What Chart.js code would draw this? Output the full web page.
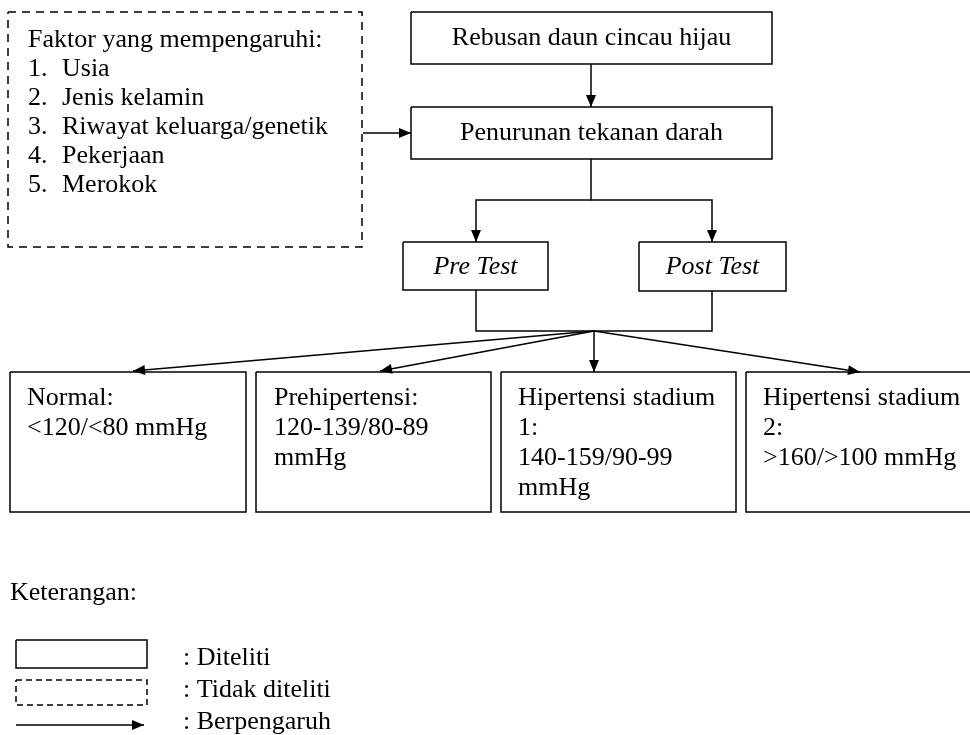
<!DOCTYPE html>
<html>
<head>
<meta charset="utf-8">
<script src="https://cdn.jsdelivr.net/npm/chart.js@4"></script>
<style>
  html, body { margin: 0; padding: 0; background: #fff; }
  #wrap { width: 970px; height: 735px; position: relative; }
</style>
</head>
<body>
<div id="wrap"><canvas id="diagram"></canvas></div>
<script>
// Teks kotak-kotak kerangka konsep
const factorTitle = 'Faktor yang mempengaruhi:';
const factorNumbers = ['1.', '2.', '3.', '4.', '5.'];
const factorItems = ['Usia', 'Jenis kelamin', 'Riwayat keluarga/genetik', 'Pekerjaan', 'Merokok'];
const mainSteps = ['Rebusan daun cincau hijau', 'Penurunan tekanan darah'];
const testLabels = ['Pre Test', 'Post Test'];
const categoryLines = [
    ['Normal:', '<120/<80 mmHg'],
    ['Prehipertensi:', '120-139/80-89', 'mmHg'],
    ['Hipertensi stadium', '1:', '140-159/90-99', 'mmHg'],
    ['Hipertensi stadium', '2:', '>160/>100 mmHg']
];
const legendTitle = 'Keterangan:';
const legendLabels = [': Diteliti', ': Tidak diteliti', ': Berpengaruh'];

// Tata letak (satuan diagram = piksel)
const layout = {
    factorBox: [8, 12, 362, 247],
    stepBoxes: [[411, 12, 772, 64], [411, 107, 772, 159]],
    testBoxes: [[403, 242, 548, 290], [639, 242, 786, 291]],
    catBoxes: [[10, 372, 246, 512], [256, 372, 491, 512], [501, 372, 736, 512], [746, 372, 985, 512]],
    catTextX: [27, 274, 518, 763],
    legendSolid: [16, 640, 147, 668],
    legendDashed: [16, 680, 147, 705],
    legendArrow: [[16, 725], [144, 725]]
};

// Garis penghubung; arrow = true berarti ada kepala panah di ujung
const connectors = [
    { pts: [[591, 64], [591, 107]], arrow: true },
    { pts: [[363, 133], [411, 133]], arrow: true },
    { pts: [[591, 159], [591, 200], [476, 200], [476, 242]], arrow: true },
    { pts: [[591, 200], [712, 200], [712, 242]], arrow: true },
    { pts: [[476, 290], [476, 331], [712, 331], [712, 291]], arrow: false },
    { pts: [[594, 331], [133, 371]], arrow: true },
    { pts: [[594, 331], [380, 371]], arrow: true },
    { pts: [[594, 331], [594, 372]], arrow: true },
    { pts: [[594, 331], [860, 372]], arrow: true },
    { pts: layout.legendArrow, arrow: true }
];

function rectPoints(b) {
    return [
        { x: b[0], y: b[1] }, { x: b[2], y: b[1] },
        { x: b[2], y: b[3] }, { x: b[0], y: b[3] }, { x: b[0], y: b[1] }
    ];
}

function lineSet(points, dashed, arrow) {
    return {
        data: points,
        showLine: true,
        borderColor: '#000',
        borderWidth: 1.5,
        borderDash: dashed || [],
        pointRadius: 0,
        fill: false,
        tension: 0,
        arrow: !!arrow
    };
}

const datasets = [];
datasets.push(lineSet(rectPoints(layout.factorBox), [8, 6]));
layout.stepBoxes.forEach(b => datasets.push(lineSet(rectPoints(b))));
layout.testBoxes.forEach(b => datasets.push(lineSet(rectPoints(b))));
layout.catBoxes.forEach(b => datasets.push(lineSet(rectPoints(b))));
datasets.push(lineSet(rectPoints(layout.legendSolid)));
datasets.push(lineSet(rectPoints(layout.legendDashed), [6, 4]));
connectors.forEach(c => datasets.push(lineSet(c.pts.map(p => ({ x: p[0], y: p[1] })), null, c.arrow)));

// Plugin: kepala panah dan semua teks
const diagramPlugin = {
    id: 'diagramText',
    afterDatasetsDraw(chart) {
        const ctx = chart.ctx;
        const sx = chart.scales.x, sy = chart.scales.y;
        const px = v => sx.getPixelForValue(v);
        const py = v => sy.getPixelForValue(v);

        // kepala panah
        chart.data.datasets.forEach((ds, i) => {
            if (!ds.arrow) return;
            const pts = chart.getDatasetMeta(i).data;
            const a = pts[pts.length - 2], b = pts[pts.length - 1];
            const ang = Math.atan2(b.y - a.y, b.x - a.x);
            const len = 12, half = 5;
            ctx.save();
            ctx.translate(b.x, b.y);
            ctx.rotate(ang);
            ctx.beginPath();
            ctx.moveTo(0, 0);
            ctx.lineTo(-len, -half);
            ctx.lineTo(-len, half);
            ctx.closePath();
            ctx.fillStyle = '#000';
            ctx.fill();
            ctx.restore();
        });

        ctx.save();
        ctx.fillStyle = '#000';
        ctx.textBaseline = 'middle';
        const serif = '26px "Liberation Serif", "Times New Roman", serif';
        ctx.font = serif;

        // kotak faktor
        ctx.textAlign = 'left';
        ctx.fillText(factorTitle, px(28), py(40));
        factorItems.forEach((t, i) => {
            ctx.fillText(factorNumbers[i], px(28), py(69 + i * 29));
            ctx.fillText(t, px(62), py(69 + i * 29));
        });

        // langkah utama
        ctx.textAlign = 'center';
        layout.stepBoxes.forEach((b, i) => {
            ctx.fillText(mainSteps[i], px((b[0] + b[2]) / 2), py((b[1] + b[3]) / 2));
        });

        // pre/post test
        ctx.font = 'italic ' + serif;
        layout.testBoxes.forEach((b, i) => {
            ctx.fillText(testLabels[i], px((b[0] + b[2]) / 2), py((b[1] + b[3]) / 2 + 1));
        });
        ctx.font = serif;

        // kategori tekanan darah
        ctx.textAlign = 'left';
        categoryLines.forEach((lines, i) => {
            lines.forEach((t, j) => {
                ctx.fillText(t, px(layout.catTextX[i]), py(398 + j * 30));
            });
        });

        // keterangan
        ctx.fillText(legendTitle, px(10), py(593));
        legendLabels.forEach((t, i) => {
            ctx.fillText(t, px(183), py(658 + i * 32));
        });
        ctx.restore();
    }
};

new Chart(document.getElementById('diagram').getContext('2d'), {
    type: 'scatter',
    data: { datasets: datasets },
    options: {
        responsive: true,
        maintainAspectRatio: false,
        animation: false,
        layout: { padding: 0 },
        scales: {
            x: { type: 'linear', min: 0, max: 970, display: false },
            y: { type: 'linear', min: 0, max: 735, reverse: true, display: false }
        },
        plugins: {
            legend: { display: false },
            tooltip: { enabled: false }
        }
    },
    plugins: [diagramPlugin]
});
</script>
</body>
</html>
